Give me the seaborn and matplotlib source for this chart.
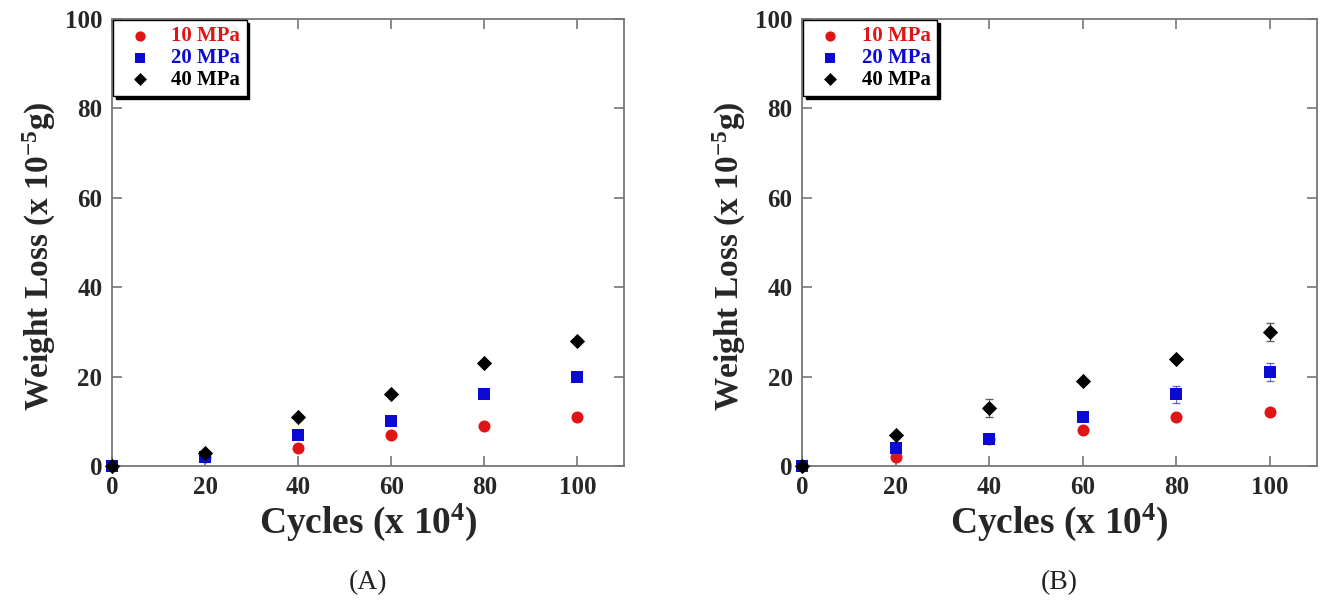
import numpy as np
import pandas as pd
import matplotlib
matplotlib.use("Agg")
import matplotlib.pyplot as plt
import seaborn as sns

# data
cycles = [0, 20, 40, 60, 80, 100]
pressures = ["10 MPa", "20 MPa", "40 MPa"]

loss_a_10 = [0, 2, 4, 7, 9, 11]
loss_a_20 = [0, 2, 7, 10, 16, 20]
loss_a_40 = [0, 3, 11, 16, 23, 28]
err_a_10 = [0, 0.3, 0.3, 0.3, 0.3, 0.6]
err_a_20 = [0, 0.3, 0.3, 0.3, 0.3, 0.5]
err_a_40 = [0, 0.3, 0.3, 0.3, 0.3, 0.5]

loss_b_10 = [0, 2, 6, 8, 11, 12]
loss_b_20 = [0, 4, 6, 11, 16, 21]
loss_b_40 = [0, 7, 13, 19, 24, 30]
err_b_10 = [0, 0.3, 0.3, 0.3, 0.5, 0.5]
err_b_20 = [0, 0.3, 0.3, 0.5, 2, 2]
err_b_40 = [0, 0.3, 2, 0.5, 0.5, 2]

colors = {"10 MPa": "#e01414", "20 MPa": "#0a0ad2", "40 MPa": "#000000"}
markers = {"10 MPa": "o", "20 MPa": "s", "40 MPa": "D"}
sizes = {"10 MPa": 75, "20 MPa": 75, "40 MPa": 60}


def make_frame(series, errs):
    rows = []
    for p, vals, ee in zip(pressures, series, errs):
        for c, v, e in zip(cycles, vals, ee):
            rows.append({"cycles": c, "loss": v, "err": e, "pressure": p})
    return pd.DataFrame(rows)


df_a = make_frame([loss_a_10, loss_a_20, loss_a_40], [err_a_10, err_a_20, err_a_40])
df_b = make_frame([loss_b_10, loss_b_20, loss_b_40], [err_b_10, err_b_20, err_b_40])

sns.set_theme(style="ticks")
plt.rcParams["font.family"] = ["Liberation Serif", "DejaVu Serif"]
plt.rcParams["font.weight"] = "bold"
plt.rcParams["mathtext.fontset"] = "custom"
plt.rcParams["mathtext.rm"] = "Liberation Serif:bold"
plt.rcParams["mathtext.bf"] = "Liberation Serif:bold"
plt.rcParams["mathtext.default"] = "bf"

fig = plt.figure(figsize=(13.26, 6.08), dpi=100)
ax_a = fig.add_axes([0.0845, 0.2336, 0.386, 0.735])
ax_b = fig.add_axes([0.605, 0.2336, 0.388, 0.735])


def draw_panel(ax, df, caption):
    for p in pressures:
        sub = df[df["pressure"] == p]
        ax.errorbar(sub["cycles"], sub["loss"], yerr=sub["err"], fmt="none",
                    ecolor=colors[p], elinewidth=0.8, capsize=3, alpha=0.6,
                    clip_on=False, zorder=2)
    for p in pressures:
        sub = df[df["pressure"] == p]
        sns.scatterplot(data=sub, x="cycles", y="loss", ax=ax, color=colors[p],
                        marker=markers[p], s=sizes[p], linewidth=0,
                        label=p, clip_on=False, zorder=3)
    ax.set_xlim(0, 110)
    ax.set_ylim(0, 100)
    ax.set_xticks(cycles)
    ax.set_yticks([0, 20, 40, 60, 80, 100])
    ax.tick_params(direction="in", length=7, width=1.2, color="#777777",
                   top=True, right=True, labelsize=18, pad=7)
    for t in ax.get_xticklabels() + ax.get_yticklabels():
        t.set_fontweight("bold")
    for s in ax.spines.values():
        s.set_color("#777777")
        s.set_linewidth(1.3)
    ax.set_xlabel(r"Cycles (x 10$^{4}$)", fontsize=27, fontweight="bold", labelpad=2)
    ax.set_ylabel(r"Weight Loss (x 10$^{-5}$g)", fontsize=24, fontweight="bold")
    ax.yaxis.set_label_coords(-0.105, 0.47)
    leg = ax.legend(loc="upper left", bbox_to_anchor=(0.0, 1.0), fontsize=15,
                    frameon=True, fancybox=False, borderaxespad=0.05,
                    handletextpad=0.5, labelspacing=0.08, borderpad=0.3,
                    shadow={"color": "black", "alpha": 1.0}, markerscale=0.85)
    leg.get_frame().set_edgecolor("black")
    leg.get_frame().set_linewidth(1.0)
    for txt, p in zip(leg.get_texts(), pressures):
        txt.set_color(colors[p])
        txt.set_fontweight("bold")
    ax.text(0.5, -0.262, caption, transform=ax.transAxes, ha="center", va="center",
            fontsize=20, fontweight="normal", color="#222222")


draw_panel(ax_a, df_a, "(A)")
draw_panel(ax_b, df_b, "(B)")

fig.savefig("out.png", dpi=100)
